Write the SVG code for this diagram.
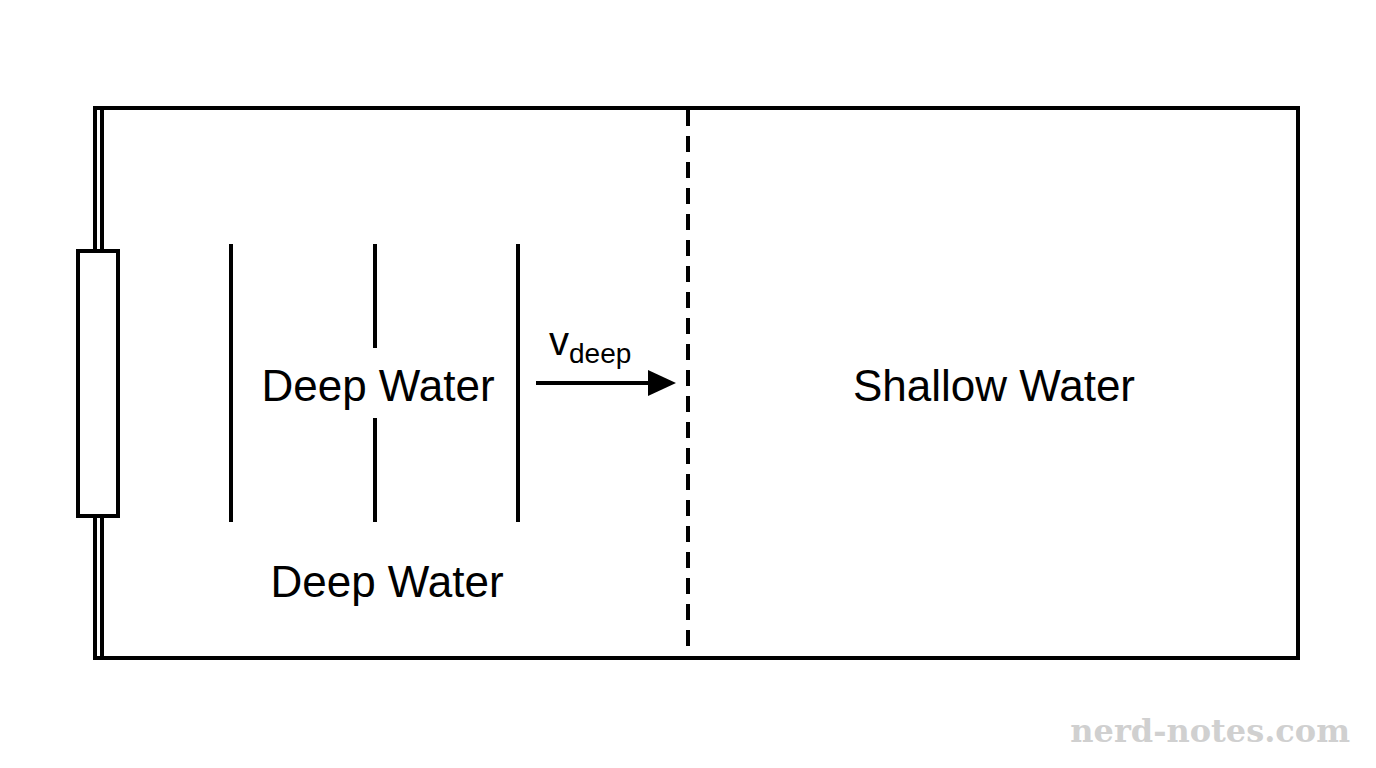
<svg xmlns="http://www.w3.org/2000/svg" width="1376" height="768" viewBox="0 0 1376 768">
<style>
.s{stroke:#000;stroke-width:4;fill:none}
.t{font-family:"Liberation Sans",Arial,sans-serif;font-size:44px;fill:#000;text-anchor:middle}
</style>
<defs><marker id="ah" markerWidth="8" markerHeight="8" refX="7" refY="4" orient="auto" markerUnits="userSpaceOnUse" viewBox="0 0 8 8"><path d="M0,0L8,4L0,8z"/></marker></defs>
<rect width="1376" height="768" fill="#fff"/>
<g id="tank">
<path class="s" d="M95,108H1298V658H95Z"/>
<line class="s" x1="102" y1="108" x2="102" y2="658" stroke-width="3"/>
</g>
<g id="generator"><rect class="s" x="78" y="251" width="40" height="265" fill="#fff" style="fill:#fff"/></g>
<g id="waves" class="s">
<line class="s" x1="231" y1="244" x2="231" y2="522"/>
<line class="s" x1="375" y1="244" x2="375" y2="348"/>
<line class="s" x1="375" y1="418" x2="375" y2="522"/>
<line class="s" x1="518" y1="244" x2="518" y2="522"/>
</g>
<g id="boundary"><line class="s" x1="688" y1="110" x2="688" y2="656" stroke-dasharray="16,10"/></g>
<g id="connectors"><line x1="536" y1="383" x2="652" y2="383" stroke="#000" stroke-width="4"/><path d="M648,370L676,383L648,396Z"/></g>
<text class="t" x="378" y="401">Deep Water</text>
<text class="t" x="994" y="401">Shallow Water</text>
<text class="t" x="387" y="597">Deep Water</text>
<text x="549" y="355" style="font-family:'Liberation Sans',Arial,sans-serif;font-size:40px">v<tspan font-size="28" dy="8">deep</tspan></text>
<text x="1350" y="742" text-anchor="end" style="font-family:'DejaVu Serif',serif;font-size:32px;font-weight:bold;fill:#d0d0d0">nerd-notes.com</text>
</svg>
